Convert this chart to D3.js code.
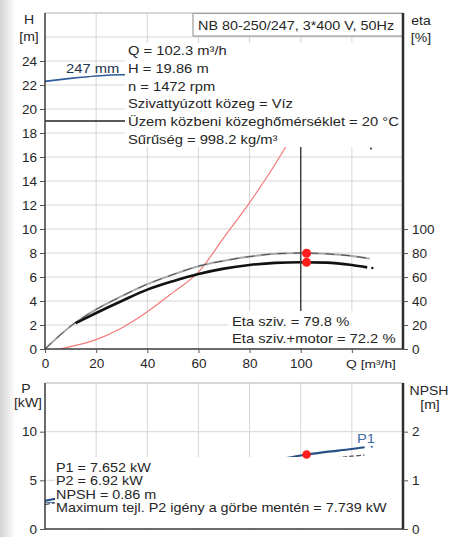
<!DOCTYPE html>
<html>
<head>
<meta charset="utf-8">
<script src="https://cdn.jsdelivr.net/npm/d3@7"></script>
<style>
  body { margin: 0; background: #fff; }
  text { font-family: "Liberation Sans", Arial, sans-serif; }
</style>
</head>
<body>
<svg id="chart"></svg>
<script>
const width = 450, height = 537;

// H-Q curve, 247 mm impeller
const qHead = [0, 10, 20, 30, 40, 50, 60, 70, 80, 90, 100, 110, 120, 127];
const head = [22.3, 22.55, 22.75, 22.85, 22.85, 22.7, 22.4, 22.0, 21.5, 20.9, 20.2, 19.2, 18.0, 17.0];
// system curve (red)
const qSys = [6, 10, 20, 30, 40, 50, 60, 70, 80, 90, 100, 102.3];
const hSys = [0, 0.2, 0.78, 1.75, 3.1, 4.7, 6.4, 9.3, 12.2, 15.4, 19.0, 19.86];
// efficiency, pump and pump+motor [%]
const qEta = [0, 10, 20, 30, 40, 50, 60, 70, 80, 90, 100, 110, 120, 127];
const etaPump = [0, 19, 33, 44, 54, 62, 69, 73.5, 77, 79.3, 80, 79.3, 77.5, 75.3];
const qEtaTot = [12, 20, 30, 40, 50, 60, 70, 80, 90, 100, 110, 120, 126];
const etaTotal = [21.6, 30, 40, 49.5, 56.5, 62.5, 67, 70, 71.8, 72.3, 72, 70, 68];
// power [kW] and NPSH [m]
const qPow = [0, 20, 40, 60, 80, 95, 102.3, 110, 120, 125];
const p1 = [2.9, 3.9, 4.9, 5.8, 6.7, 7.3, 7.652, 7.92, 8.22, 8.4];
const p2 = [2.5, 3.5, 4.4, 5.2, 6.05, 6.6, 6.92, 7.18, 7.48, 7.6];
const qNpsh = [0, 20, 40, 60, 80, 102.3, 120, 127];
const npsh = [0.55, 0.52, 0.55, 0.62, 0.72, 0.86, 1.05, 1.15];
// duty point
const duty = { q: 102.3, eta: 79.8, etaTot: 72.2, p1: 7.652 };
const required = { q: 100, h: 19 };

const headTicks = d3.range(0, 25, 2);
const etaTicks = d3.range(0, 101, 20);
const qTicks = d3.range(0, 121, 20);
const qLabels = d3.range(0, 101, 20);
const pTicks = [0, 5, 10];
const npshTicks = [0, 1, 2];

const infoLines = [
  'Q = 102.3 m³/h',
  'H = 19.86 m',
  'n = 1472 rpm',
  'Szivattyúzott közeg = Víz',
  'Üzem közbeni közeghőmérséklet = 20 °C',
  'Sűrűség = 998.2 kg/m³'
];
const etaLines = ['Eta sziv. = 79.8 %', 'Eta sziv.+motor = 72.2 %'];
const powLines = ['P1 = 7.652 kW', 'P2 = 6.92 kW', 'NPSH = 0.86 m',
  'Maximum tejl. P2 igény a görbe mentén = 7.739 kW'];

const svg = d3.select('#chart').attr('width', width).attr('height', height);

// soft grey shadow on the left edge
const defs = svg.append('defs');
const grad = defs.append('linearGradient').attr('id', 'edge');
grad.append('stop').attr('offset', 0).attr('stop-color', '#d4d4d4');
grad.append('stop').attr('offset', 1).attr('stop-color', '#ffffff');
svg.append('rect').attr('width', width).attr('height', height).attr('fill', '#fff');
svg.append('rect').attr('width', 16).attr('height', height).attr('fill', 'url(#edge)');

const x = d3.scaleLinear().domain([0, 140]).range([45, 403]);
const yH = d3.scaleLinear().domain([0, 28]).range([349, 13]);
const yEta = d3.scaleLinear().domain([0, 100]).range([349, 229]);
const yP = d3.scaleLinear().domain([0, 15]).range([529, 383]);
const yN = d3.scaleLinear().domain([0, 3]).range([529, 383]);

const gridColor = '#d6d6d6';
const axisColor = '#3a3a3a';
const SX = 1.17;

function label(g, px, py, s, size, anchor, fill) {
  return g.append('text')
    .attr('transform', `translate(${px},${py}) scale(${SX},1)`)
    .attr('font-size', size)
    .attr('text-anchor', anchor || 'start')
    .attr('fill', fill || '#262626')
    .text(s);
}

function grid(g, xs, ys, y0, y1) {
  g.selectAll('.vg').data(xs).enter().append('line')
    .attr('x1', d => x(d)).attr('x2', d => x(d))
    .attr('y1', y0).attr('y2', y1)
    .attr('stroke', gridColor);
  g.selectAll('.hg').data(ys).enter().append('line')
    .attr('x1', x(0)).attr('x2', x(140))
    .attr('y1', d => d).attr('y2', d => d)
    .attr('stroke', gridColor);
}

function curve(g, qs, vs, yScale, color, w, dash) {
  const line = d3.line().x(d => x(d[0])).y(d => yScale(d[1])).curve(d3.curveMonotoneX);
  return g.append('path')
    .datum(d3.zip(qs, vs))
    .attr('fill', 'none')
    .attr('stroke', color)
    .attr('stroke-width', w)
    .attr('stroke-dasharray', dash || null)
    .attr('d', line);
}

function frame(g, y0, y1) {
  g.append('line').attr('x1', x(0)).attr('x2', x(140)).attr('y1', y0).attr('y2', y0)
    .attr('stroke', '#b0b0b0');
  g.append('line').attr('x1', x(0)).attr('x2', x(0)).attr('y1', y0).attr('y2', y1)
    .attr('stroke', axisColor).attr('stroke-width', 1.5);
  g.append('line').attr('x1', x(140)).attr('x2', x(140)).attr('y1', y0).attr('y2', y1)
    .attr('stroke', '#2e2e2e').attr('stroke-width', 2.5);
  g.append('line').attr('x1', x(0)).attr('x2', x(140)).attr('y1', y1).attr('y2', y1)
    .attr('stroke', axisColor).attr('stroke-width', 1.5);
}

function styleAxis(a) {
  a.select('.domain').remove();
  a.selectAll('.tick line').attr('stroke', '#555');
  a.selectAll('.tick text').attr('font-size', 13.5).attr('fill', '#262626')
    .attr('font-family', '"Liberation Sans", Arial, sans-serif');
}

// ---------- upper plot: head / efficiency ----------
const upper = svg.append('g');
grid(upper, d3.range(20, 140, 20), d3.range(2, 28, 2).map(yH), 13, 349);

curve(upper, qSys, hSys, yH, '#f47a7a', 1.2);
curve(upper, qEta, etaPump, yEta, '#a8a8a8', 2);
curve(upper, qEta, etaPump, yEta, '#444', 0.9, '9,7');
curve(upper, qEtaTot, etaTotal, yEta, '#111', 2.6);
curve(upper, qHead, head, yH, '#2e5c9a', 1.6);

// required duty point cross lines
upper.append('line')
  .attr('x1', x(0)).attr('x2', x(required.q))
  .attr('y1', yH(required.h)).attr('y2', yH(required.h))
  .attr('stroke', '#222').attr('stroke-width', 1.3);
upper.append('line')
  .attr('x1', x(required.q)).attr('x2', x(required.q))
  .attr('y1', yH(required.h)).attr('y2', yH(0))
  .attr('stroke', '#444').attr('stroke-width', 1.5);

// end markers
upper.append('circle').attr('cx', x(128)).attr('cy', yEta(67.5)).attr('r', 1.3).attr('fill', '#222');
upper.append('circle').attr('cx', x(127.5)).attr('cy', yH(16.7)).attr('r', 1.1).attr('fill', '#444');

// info box
upper.append('rect').attr('x', 125).attr('y', 43).attr('width', 276).attr('height', 104).attr('fill', '#fff');
infoLines.forEach((s, i) => label(upper, 128, 55 + i * 17.8, s, 12.6));

upper.append('rect').attr('x', 193).attr('y', 13.5).attr('width', 210).attr('height', 22.5)
  .attr('fill', '#fff').attr('stroke', '#8a8a8a');
label(upper, 198, 30, 'NB 80-250/247, 3*400 V, 50Hz', 12.3);

label(upper, 66, 73, '247 mm', 12.6, 'start', '#1f3552');

upper.append('rect').attr('x', 228).attr('y', 311).attr('width', 173).attr('height', 37).attr('fill', '#fff');
etaLines.forEach((s, i) => label(upper, 232, 325.5 + i * 17.7, s, 12.6));

upper.selectAll('.duty').data([duty.eta, duty.etaTot]).enter().append('circle')
  .attr('cx', x(duty.q)).attr('cy', d => yEta(d)).attr('r', 4.5).attr('fill', '#ff1c1c');

frame(upper, 13, 349);

const axH = upper.append('g').attr('transform', `translate(${x(0)},0)`)
  .call(d3.axisLeft(yH).tickValues(headTicks).tickSize(5).tickPadding(3));
styleAxis(axH);
const axEta = upper.append('g').attr('transform', `translate(${x(140)},0)`)
  .call(d3.axisRight(yEta).tickValues(etaTicks).tickSize(5).tickPadding(4));
styleAxis(axEta);
const axQ = upper.append('g').attr('transform', `translate(0,${yH(0)})`)
  .call(d3.axisBottom(x).tickValues(qTicks).tickSize(4).tickPadding(5)
    .tickFormat(d => qLabels.includes(d) ? d : ''));
styleAxis(axQ);

label(upper, 371, 368, 'Q [m³/h]', 11.8, 'middle');
label(upper, 29, 24, 'H', 12, 'middle');
label(upper, 29, 41, '[m]', 12, 'middle');
label(upper, 421, 25, 'eta', 12, 'middle');
label(upper, 421, 42, '[%]', 12, 'middle');

// ---------- lower plot: power / NPSH ----------
const lower = svg.append('g');
grid(lower, d3.range(20, 140, 20), [yP(5), yP(10)], 383, 529);

curve(lower, qNpsh, npsh, yN, '#3b6aa8', 1.2);
curve(lower, qPow, p2, yP, '#555', 1.2, '5,2');
curve(lower, qPow, p1, yP, '#264f86', 2.2);
lower.append('circle').attr('cx', x(127.8)).attr('cy', yP(8.45)).attr('r', 1.1).attr('fill', '#3b6aa8');

lower.append('rect').attr('x', 55).attr('y', 457).attr('width', 346).attr('height', 71).attr('fill', '#fff');
powLines.forEach((s, i) => label(lower, 56, 472 + i * 13.3, s, 12.3));

lower.append('circle').attr('cx', x(duty.q)).attr('cy', yP(duty.p1)).attr('r', 4.3).attr('fill', '#ff1c1c');
label(lower, 366, 443, 'P1', 12.6, 'middle', '#3e6aa6');

frame(lower, 383, 529);

const axP = lower.append('g').attr('transform', `translate(${x(0)},0)`)
  .call(d3.axisLeft(yP).tickValues(pTicks).tickSize(5).tickPadding(3));
styleAxis(axP);
const axN = lower.append('g').attr('transform', `translate(${x(140)},0)`)
  .call(d3.axisRight(yN).tickValues(npshTicks).tickSize(5).tickPadding(4)
    .tickFormat(d3.format('d')));
styleAxis(axN);

label(lower, 26, 393, 'P', 12, 'middle');
label(lower, 28, 407, '[kW]', 12, 'middle');
label(lower, 429, 395, 'NPSH', 12, 'middle');
label(lower, 430, 409, '[m]', 12, 'middle');
</script>
</body>
</html>
